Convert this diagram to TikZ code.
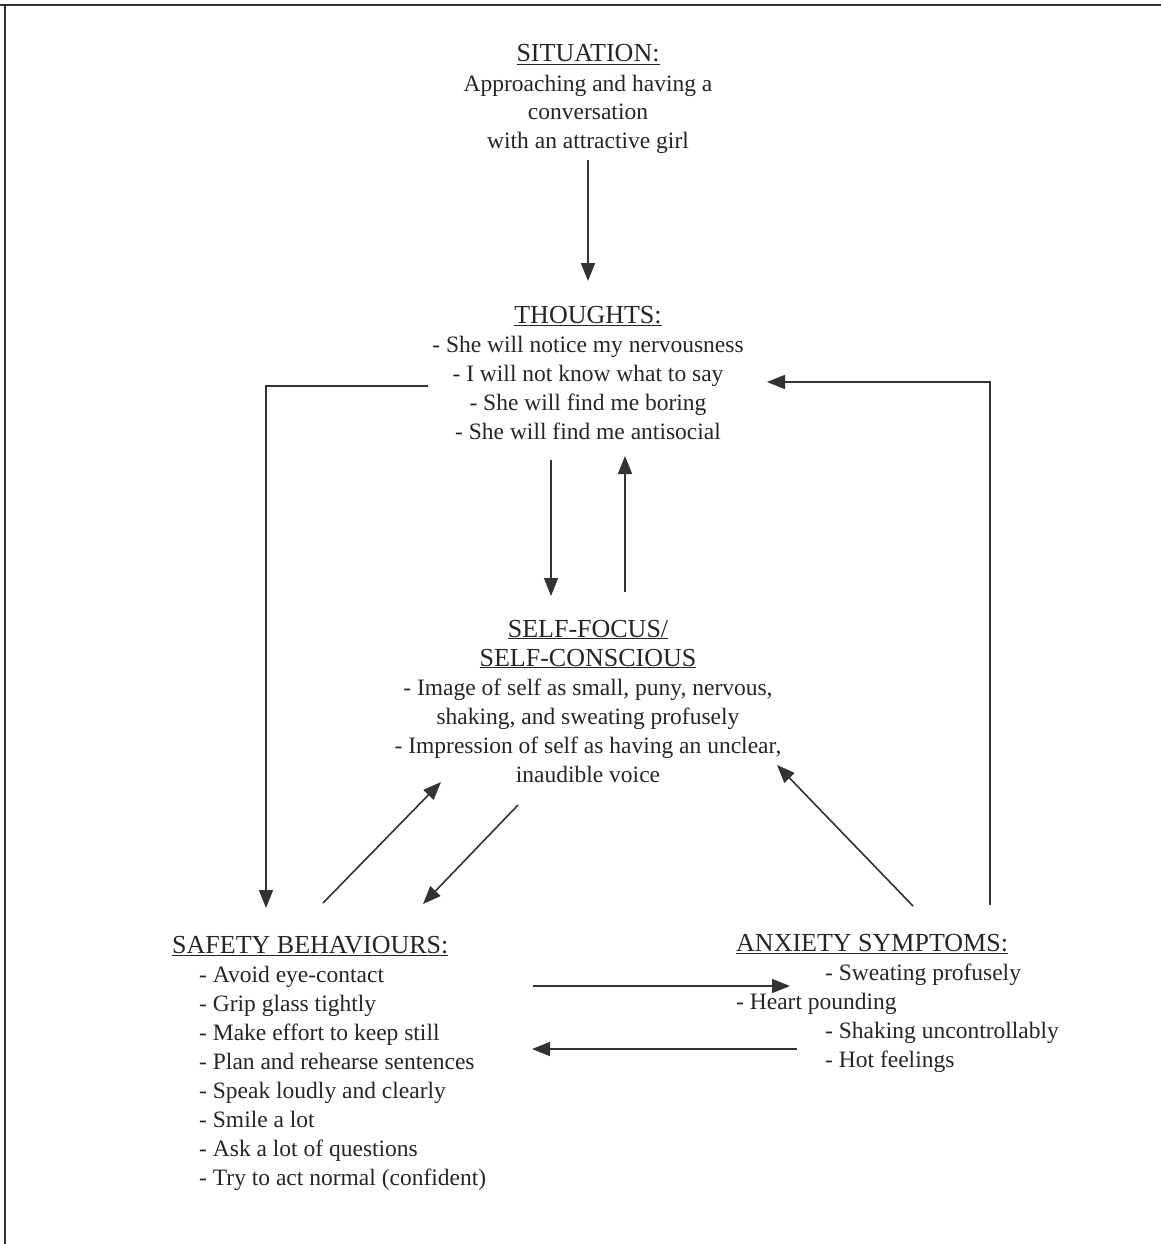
\documentclass[tikz,border=0pt]{standalone}
\usepackage{fontspec}
\setmainfont{Liberation Serif}
\usetikzlibrary{arrows.meta}
\newcommand{\hdr}[1]{{\fontsize{26}{29}\selectfont\underline{#1}}}
\begin{document}
\begin{tikzpicture}[x=1pt,y=1pt,
  txt/.style={inner sep=0pt, anchor=base, text=black!85, font=\fontsize{23.5}{29}\selectfont},
  conn/.style={line width=1.6pt, draw=black!80, -{Triangle[length=18pt,width=14pt]}}]
\useasboundingbox (0,0) rectangle (1161,-1244);
\fill[white] (0,0) rectangle (1161,-1244);
% frame
\draw[line width=2.5pt, black!80] (0,-5) -- (1161,-5);
\draw[line width=1.8pt, black!80] (5,-5) -- (5,-1244);
% text blocks (anchored at the baseline of their last line)
\node[txt, align=center] (sit) at (588,-149)
  {\hdr{SITUATION:}\\Approaching and having a\\conversation\\with an attractive girl};
\node[txt, align=center] (th) at (588,-439)
  {\hdr{THOUGHTS:}\\- She will notice my nervousness\\- I will not know what to say\\- She will find me boring\\- She will find me antisocial};
\node[txt, align=center] (self) at (588,-782)
  {\hdr{SELF-FOCUS/}\\\hdr{SELF-CONSCIOUS}\\- Image of self as small, puny, nervous,\\shaking, and sweating profusely\\- Impression of self as having an unclear,\\inaudible voice};
\node[txt, align=left, anchor=base west] (safe) at (172,-1185)
  {\hdr{SAFETY BEHAVIOURS:}\\
   \hspace*{27pt}- Avoid eye-contact\\
   \hspace*{27pt}- Grip glass tightly\\
   \hspace*{27pt}- Make effort to keep still\\
   \hspace*{27pt}- Plan and rehearse sentences\\
   \hspace*{27pt}- Speak loudly and clearly\\
   \hspace*{27pt}- Smile a lot\\
   \hspace*{27pt}- Ask a lot of questions\\
   \hspace*{27pt}- Try to act normal (confident)};
\node[txt, align=left, anchor=base west] (anx) at (736,-1067)
  {\hdr{ANXIETY SYMPTOMS:}\\
   \hspace*{89pt}- Sweating profusely\\
   - Heart pounding\\
   \hspace*{89pt}- Shaking uncontrollably\\
   \hspace*{89pt}- Hot feelings};
% connector end points
\coordinate (a1s) at (588,-160);
\coordinate (a1e) at (588,-281);
\coordinate (a2s) at (551,-460);
\coordinate (a2e) at (551,-596);
\coordinate (a3s) at (625,-592);
\coordinate (a3e) at (625,-456);
\coordinate (a4s) at (428,-386);
\coordinate (a4m) at (266,-386);
\coordinate (a4e) at (266,-908);
\coordinate (a5s) at (990,-905);
\coordinate (a5m) at (990,-382);
\coordinate (a5e) at (767,-382);
\coordinate (a6s) at (323,-903);
\coordinate (a6e) at (441,-782);
\coordinate (a7s) at (518,-805);
\coordinate (a7e) at (423,-904);
\coordinate (a8s) at (913,-906);
\coordinate (a8e) at (777,-765);
\coordinate (a9s) at (533,-986);
\coordinate (a9e) at (790,-986);
\coordinate (a10s) at (797,-1049);
\coordinate (a10e) at (532,-1049);
% connectors
\draw[conn] (a1s) -- (a1e);
\draw[conn] (a2s) -- (a2e);
\draw[conn] (a3s) -- (a3e);
\draw[conn] (a4s) -- (a4m) -- (a4e);
\draw[conn] (a5s) -- (a5m) -- (a5e);
\draw[conn] (a6s) -- (a6e);
\draw[conn] (a7s) -- (a7e);
\draw[conn] (a8s) -- (a8e);
\draw[conn] (a9s) -- (a9e);
\draw[conn] (a10s) -- (a10e);
\end{tikzpicture}
\end{document}
